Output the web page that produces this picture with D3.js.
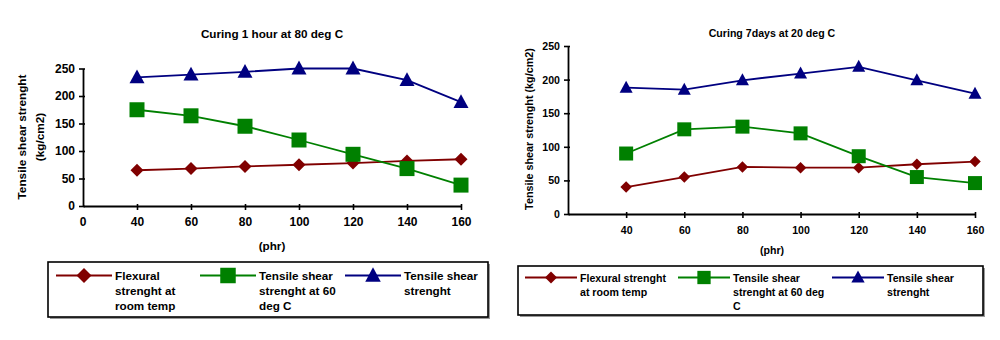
<!DOCTYPE html>
<html>
<head>
<meta charset="utf-8">
<script src="https://cdn.jsdelivr.net/npm/d3@7"></script>
<style>
  body { margin:0; background:#fff; }
  text { font-family: "Liberation Sans", Arial, sans-serif; font-weight: bold; fill:#000; }
</style>
</head>
<body>
<div id="chart"></div>
<script>
// data
var leftCats  = ["0","40","60","80","100","120","140","160"];
var rightCats = ["","40","60","80","100","120","140","160"];
var phr = ["40","60","80","100","120","140","160"];
var yTicks = [0,50,100,150,200,250];

var leftFlex    = [65,68,72,75,78,82,85];
var leftShear60 = [175,164,145,120,94,68,38];
var leftShear   = [234,239,244,250,250,229,189];

var rightFlex    = [40,55,70,69,69,74,78];
var rightShear60 = [90,126,130,120,86,55,46];
var rightShear   = [188,185,199,209,219,199,179];

var seriesNames = [
  ["Flexural","strenght at","room temp"],
  ["Tensile shear","strenght at 60","deg C"],
  ["Tensile shear","strenght"]
];
var seriesNamesRight = [
  ["Flexural strenght","at room temp"],
  ["Tensile shear","strenght at 60 deg","C"],
  ["Tensile shear","strenght"]
];
var colors = ["#800000","#008000","#000080"];

// marker outline, w = width in px
function marker(k,w){
  var r = w/2;
  if(k===0) return 'M0,'+(-r)+'L'+r+',0L0,'+r+'L'+(-r)+',0Z';
  if(k===1) return 'M'+(-r)+','+(-r)+'H'+r+'V'+r+'H'+(-r)+'Z';
  var h = w*0.92;
  return 'M0,'+(-h/2-1)+'L'+r+','+(h/2-1)+'L'+(-r)+','+(h/2-1)+'Z';
}

var svg = d3.select('#chart').append('svg')
    .attr('width',1000).attr('height',340);

function Chart(o){
  var g = svg.append('g');
  var fs = o.fs+'px';

  var x = d3.scalePoint().domain(o.cats).range([o.x0,o.x1]);
  var y = d3.scaleLinear().domain([0,250]).range([o.y0,o.y1]);

  // axes
  var yAxis = d3.axisLeft(y).tickValues(yTicks).tickSize(4).tickSizeOuter(0);
  var xAxis = d3.axisBottom(x).tickSize(4).tickSizeOuter(0)
      .tickValues(o.cats.filter(function(d){ return d!=="" && d!=="0"; }));

  var ya = g.append('g').attr('transform','translate('+o.x0+',0)').call(yAxis);
  var xa = g.append('g').attr('transform','translate(0,'+o.y0+')').call(xAxis);
  [ya,xa].forEach(function(a){
    a.select('.domain').attr('stroke','#000').attr('stroke-width',1.8);
    a.selectAll('.tick line').attr('stroke','#000').attr('stroke-width',1.6);
    a.selectAll('text').style('font-size',o.tfs+'px').style('font-weight','bold')
      .style('font-family','"Liberation Sans", Arial, sans-serif');
  });
  ya.selectAll('.tick line').attr('x2',-4).attr('x1',2);
  xa.selectAll('.tick line').attr('y1',-2);
  ya.selectAll('text').attr('x',-8);
  xa.selectAll('text').attr('y',o.xLabDy);
  if(o.cats[0]==="0"){
    xa.append('text').attr('x',x("0")).attr('y',o.xLabDy).attr('dy','0.71em')
      .attr('text-anchor','middle').style('font-size',o.tfs+'px').text("0");
  }

  // series
  var line = d3.line().x(function(d,i){ return x(phr[i]); }).y(function(d){ return y(d); });
  o.series.forEach(function(s,k){
    g.append('path').datum(s).attr('d',line).attr('fill','none')
      .attr('stroke',colors[k]).attr('stroke-width',1.8);
    g.selectAll('.m'+k).data(s).enter().append('path')
      .attr('transform',function(d,i){ return 'translate('+x(phr[i])+','+y(d)+')'; })
      .attr('d',marker(k,o.mw[k]))
      .attr('fill',colors[k]);
  });

  // titles
  g.append('text').attr('x',o.tx).attr('y',o.ty).attr('text-anchor','middle')
    .style('font-size',fs).text(o.title);
  g.append('text').attr('x',o.tx).attr('y',o.px).attr('text-anchor','middle')
    .style('font-size',fs).text("(phr)");
  var yl = g.append('text').attr('transform','translate('+o.ylx+','+o.yly+') rotate(-90)')
    .attr('text-anchor','middle').style('font-size',o.yfs+'px');
  o.ylab.forEach(function(t,i){
    yl.append('tspan').attr('x',0).attr('dy', i===0 ? (-(o.ylab.length-1)*9)+'px' : '18px').text(t);
  });

  // legend
  var L = o.leg;
  g.append('rect').attr('x',L.x+2).attr('y',L.y+2).attr('width',L.w).attr('height',L.h).attr('fill','#999');
  g.append('rect').attr('x',L.x).attr('y',L.y).attr('width',L.w).attr('height',L.h)
    .attr('fill','#fff').attr('stroke','#000').attr('stroke-width',1.6);
  o.names.forEach(function(lines,k){
    var lx = L.items[k];
    g.append('line').attr('x1',lx).attr('x2',lx+L.lw).attr('y1',L.ly).attr('y2',L.ly)
      .attr('stroke',colors[k]).attr('stroke-width',1.8);
    g.append('path').attr('transform','translate('+(lx+L.lw/2)+','+L.ly+')')
      .attr('d',marker(k,L.mw[k])).attr('fill',colors[k]);
    var t = g.append('text').attr('x',lx+L.lw+3).attr('y',L.ly+4).style('font-size',fs);
    lines.forEach(function(s,i){
      t.append('tspan').attr('x',lx+L.lw+3).attr('dy', i===0 ? 0 : L.lh).text(s);
    });
  });
}

Chart({
  cats:leftCats, x0:83, x1:461, y0:206, y1:68.5, xLabDy:11,
  fs:11.7, tfs:12, yfs:11.8, mw:[13,15,15],
  series:[leftFlex,leftShear60,leftShear],
  title:"Curing 1 hour at 80 deg C", tx:272, ty:38, px:250,
  ylab:["Tensile shear strenght","(kg/cm2)"], ylx:35, yly:137,
  names:seriesNames,
  leg:{x:48,y:262,w:440,h:55,items:[56,200,345],lw:56,ly:275.5,lh:15,mw:[15,15.5,15.5]}
});

Chart({
  cats:rightCats, x0:568, x1:975, y0:214, y1:46, xLabDy:12,
  fs:10.6, tfs:10.6, yfs:10.8, mw:[11.5,14,13],
  series:[rightFlex,rightShear60,rightShear],
  title:"Curing 7days at 20 deg C", tx:772, ty:37, px:254,
  ylab:["Tensile shear strenght (kg/cm2)"], ylx:533, yly:129,
  names:seriesNamesRight,
  leg:{x:518,y:266,w:465,h:49,items:[525,678,832],lw:52,ly:277.5,lh:14,mw:[12,13.3,13.3]}
});
</script>
</body>
</html>
